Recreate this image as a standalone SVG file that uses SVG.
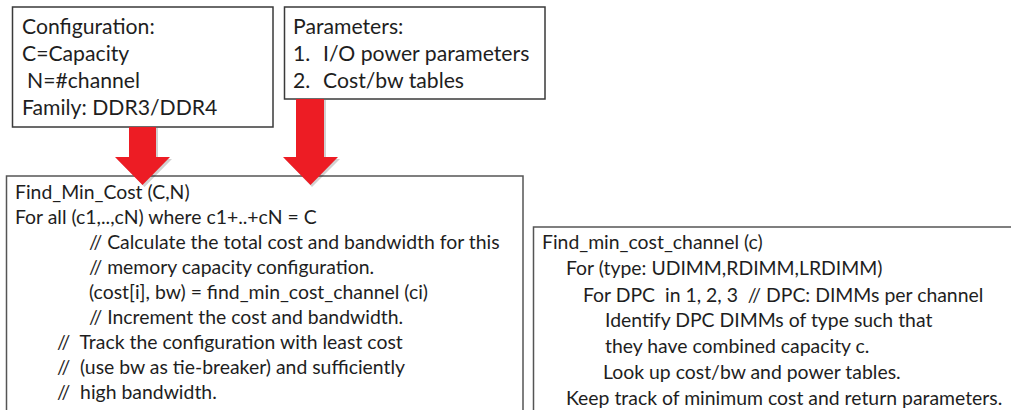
<svg xmlns="http://www.w3.org/2000/svg" width="1011" height="410" viewBox="0 0 1011 410">
<defs>
<style>
.box{fill:#fff;stroke:#3a3a3a;stroke-width:1.5}
.box2{fill:#fff;stroke:#555;stroke-width:1.5}
text{font-family:Lato,"Liberation Sans",sans-serif;fill:#1e1e1e;white-space:pre}
.t20{font-size:21.2px}
.t18{font-size:19.4px}
.arrow{fill:#ED1C24}
.shadow{fill:#000;opacity:0.18}
</style>
</defs>
<g id="config">
<rect class="box" x="12.5" y="7" width="260.5" height="120"/>
<text class="t20" x="22" y="34">Configuration:</text>
<text class="t20" x="22" y="61">C=Capacity</text>
<text class="t20" x="27" y="88">N=#channel</text>
<text class="t20" x="22" y="115">Family: DDR3/DDR4</text>
</g>
<g id="params">
<rect class="box" x="284.5" y="7" width="260.5" height="92"/>
<text class="t20" x="293" y="34">Parameters:</text>
<text class="t20" x="293" y="61">1.</text>
<text class="t20" x="323" y="61">I/O power parameters</text>
<text class="t20" x="293" y="88">2.</text>
<text class="t20" x="323" y="88">Cost/bw tables</text>
</g>
<g id="find_min_cost">
<rect class="box2" x="6.5" y="176" width="516.5" height="250"/>
<text class="t18" x="15" y="199">Find_Min_Cost (C,N)</text>
<text class="t18" x="15" y="224">For all (c1,..,cN) where c1+..+cN = C</text>
<text class="t18" x="89" y="249">// Calculate the total cost and bandwidth for this</text>
<text class="t18" x="89" y="274">// memory capacity configuration.</text>
<text class="t18" x="89" y="299">(cost[i], bw) = find_min_cost_channel (ci)</text>
<text class="t18" x="89" y="324">// Increment the cost and bandwidth.</text>
<text class="t18" x="57" y="349" xml:space="preserve">//  Track the configuration with least cost</text>
<text class="t18" x="57" y="374" xml:space="preserve">//  (use bw as tie-breaker) and sufficiently</text>
<text class="t18" x="57" y="399" xml:space="preserve">//  high bandwidth.</text>
</g>
<g id="find_min_cost_channel">
<rect class="box2" x="533.5" y="227" width="500" height="200"/>
<text class="t18" x="542" y="249">Find_min_cost_channel (c)</text>
<text class="t18" x="566" y="275">For (type: UDIMM,RDIMM,LRDIMM)</text>
<text class="t18" x="583" y="302" xml:space="preserve">For DPC  in 1, 2, 3  // DPC: DIMMs per channel</text>
<text class="t18" x="605" y="327">Identify DPC DIMMs of type such that</text>
<text class="t18" x="605" y="353">they have combined capacity c.</text>
<text class="t18" x="603" y="379">Look up cost/bw and power tables.</text>
<text class="t18" x="566" y="405">Keep track of minimum cost and return parameters.</text>
</g>
<g id="connectors">
<polygon class="shadow" points="131,128 158,128 158,159 172,159 144.5,187 117,159 131,159"/>
<polygon class="arrow" points="129,127 156,127 156,157 170,157 142.5,185 115,157 129,157"/>
<polygon class="shadow" points="298,100 326,100 326,159 340,159 312,187 285,159 298,159"/>
<polygon class="arrow" points="296,99 324,99 324,157 338,157 310.5,185 283,157 296,157"/>
</g>
</svg>
